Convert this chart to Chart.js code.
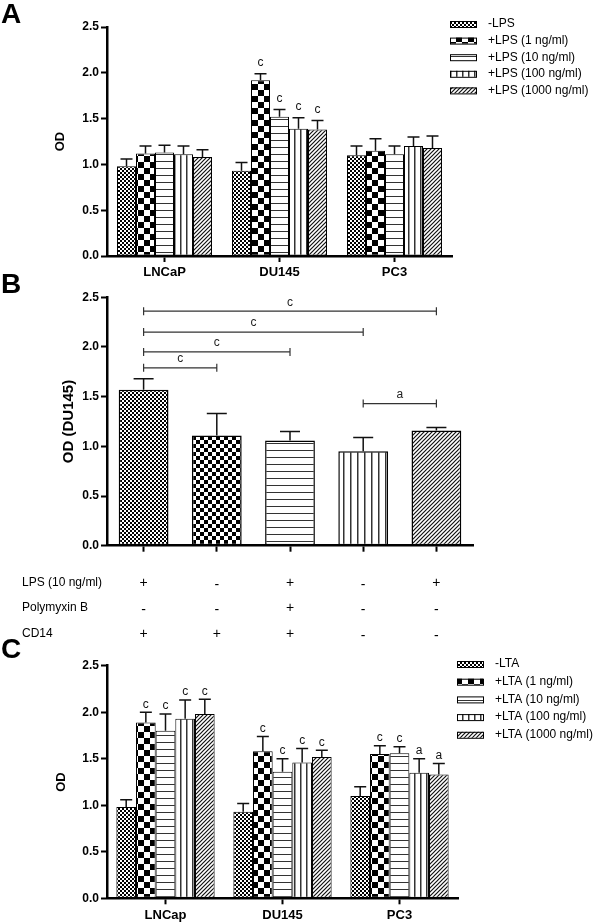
<!DOCTYPE html>
<html>
<head>
<meta charset="utf-8">
<script src="https://cdn.jsdelivr.net/npm/chart.js@4.4.1/dist/chart.umd.min.js"></script>
<style>
  html, body { margin: 0; padding: 0; background: #fff; }
  #wrap { position: relative; width: 600px; height: 923px; overflow: hidden; }
  canvas { position: absolute; left: 0; }
</style>
</head>
<body>
<div id="wrap">
  <canvas id="chartA" width="600" height="282" style="top:0"></canvas>
  <canvas id="chartB" width="600" height="372" style="top:268px"></canvas>
  <canvas id="chartC" width="600" height="293" style="top:630px"></canvas>
</div>
<script>
const FONT = "'Liberation Sans', Arial, sans-serif";

// Panel A: LPS
const cellLinesA = ["LNCaP", "DU145", "PC3"];
const seriesA = ["-LPS", "+LPS (1 ng/ml)", "+LPS (10 ng/ml)", "+LPS (100 ng/ml)", "+LPS (1000 ng/ml)"];
const lpsNone = [0.98, 0.93, 1.10];
const lps1 = [1.12, 1.92, 1.15];
const lps10 = [1.13, 1.52, 1.11];
const lps100 = [1.11, 1.39, 1.20];
const lps1000 = [1.08, 1.38, 1.18];
const lpsNoneErr = [0.08, 0.09, 0.10];
const lps1Err = [0.08, 0.07, 0.13];
const lps10Err = [0.08, 0.08, 0.09];
const lps100Err = [0.09, 0.12, 0.10];
const lps1000Err = [0.08, 0.10, 0.13];
const sigA = [["", "", ""], ["", "c", ""], ["", "c", ""], ["", "c", ""], ["", "c", ""]];

// Panel B: DU145 with LPS / Polymyxin B / CD14
const meanB = [1.57, 1.11, 1.06, 0.95, 1.16];
const errB = [0.11, 0.22, 0.09, 0.14, 0.03];
const lpsRow = ["+", "-", "+", "-", "+"];
const polymyxinRow = ["-", "-", "+", "-", "-"];
const cd14Row = ["+", "+", "+", "-", "-"];
const rowNamesB = ["LPS (10 ng/ml)", "Polymyxin B", "CD14"];
// [from, to, level, label]
const bracketsB = [[0, 4, 2.36, "c"], [0, 3, 2.15, "c"], [0, 2, 1.95, "c"], [0, 1, 1.79, "c"], [3, 4, 1.43, "a"]];

// Panel C: LTA
const cellLinesC = ["LNCap", "DU145", "PC3"];
const seriesC = ["-LTA", "+LTA (1 ng/ml)", "+LTA (10 ng/ml)", "+LTA (100 ng/ml)", "+LTA (1000 ng/ml)"];
const ltaNone = [0.98, 0.93, 1.10];
const lta1 = [1.89, 1.58, 1.55];
const lta10 = [1.80, 1.36, 1.56];
const lta100 = [1.93, 1.46, 1.35];
const lta1000 = [1.98, 1.52, 1.33];
const ltaNoneErr = [0.08, 0.09, 0.10];
const lta1Err = [0.11, 0.16, 0.09];
const lta10Err = [0.18, 0.14, 0.07];
const lta100Err = [0.20, 0.15, 0.15];
const lta1000Err = [0.16, 0.07, 0.12];
const sigC = [["", "", ""], ["c", "c", "c"], ["c", "c", "c"], ["c", "c", "a"], ["c", "c", "a"]];

Chart.defaults.font.family = FONT;
Chart.defaults.color = "#000";

// hatch fills
function tile(w, h, draw) {
  const c = document.createElement("canvas");
  c.width = w; c.height = h;
  const g = c.getContext("2d");
  g.fillStyle = "#fff";
  g.fillRect(0, 0, w, h);
  draw(g);
  return g.createPattern(c, "repeat");
}
function checker(s) {
  return tile(2 * s, 2 * s, g => {
    g.fillStyle = "#000";
    g.fillRect(0, 0, s, s);
    g.fillRect(s, s, s, s);
  });
}
function hLines(step) {
  return tile(4, step, g => { g.fillStyle = "#333"; g.fillRect(0, 0, 4, 1); });
}
function vLines(step) {
  return tile(step, 4, g => { g.fillStyle = "#333"; g.fillRect(0, 0, 1.5, 4); });
}
function diag(step) {
  return tile(step, step, g => {
    g.strokeStyle = "#111"; g.lineWidth = 1.2;
    g.beginPath();
    g.moveTo(-1, 1); g.lineTo(1, -1);
    g.moveTo(0, step); g.lineTo(step, 0);
    g.moveTo(step - 1, step + 1); g.lineTo(step + 1, step - 1);
    g.stroke();
  });
}
const patsAC = [checker(2), checker(6), hLines(7), vLines(6), diag(4)];
const patsB = [checker(2), checker(4), hLines(7), vLines(7), diag(4)];

const errorBars = {
  id: "errorBars",
  afterDatasetsDraw(chart, args, o) {
    const ctx = chart.ctx, y = chart.scales.y;
    ctx.save();
    ctx.strokeStyle = "#111"; ctx.lineWidth = 1.5;
    ctx.fillStyle = "#111"; ctx.font = "12px " + FONT;
    ctx.textAlign = "center"; ctx.textBaseline = "middle";
    chart.data.datasets.forEach((ds, i) => {
      chart.getDatasetMeta(i).data.forEach((bar, j) => {
        const top = y.getPixelForValue(ds.data[j] + ds.errors[j]);
        ctx.beginPath();
        ctx.moveTo(bar.x, bar.y); ctx.lineTo(bar.x, top);
        ctx.moveTo(bar.x - o.cap / 2, top); ctx.lineTo(bar.x + o.cap / 2, top);
        ctx.stroke();
        if (ds.sig && ds.sig[j]) ctx.fillText(ds.sig[j], bar.x, top - o.gap);
      });
    });
    ctx.restore();
  }
};

const panelLetter = {
  id: "panelLetter",
  afterDraw(chart, args, o) {
    const ctx = chart.ctx;
    ctx.save();
    ctx.fillStyle = "#000"; ctx.font = "bold 28px " + FONT;
    ctx.textBaseline = "alphabetic"; ctx.textAlign = "left";
    ctx.fillText(o.text, o.x, o.y);
    ctx.restore();
  }
};

const sideLegend = {
  id: "sideLegend",
  afterDraw(chart, args, o) {
    if (!o.show) return;
    const ctx = chart.ctx;
    ctx.save();
    ctx.font = "12px " + FONT; ctx.textBaseline = "middle"; ctx.textAlign = "left";
    chart.data.datasets.forEach((ds, i) => {
      const cy = o.y + i * o.step;
      ctx.fillStyle = ds.backgroundColor;
      ctx.fillRect(o.x, cy - 3, 26, 6);
      ctx.strokeStyle = "#000"; ctx.lineWidth = 1;
      ctx.strokeRect(o.x + 0.5, cy - 3 + 0.5, 26, 6);
      ctx.fillStyle = "#000";
      ctx.fillText(ds.label, o.textX, cy);
    });
    ctx.restore();
  }
};

function axes(yTitle, titleSize, titlePad, xHeight, xLabels) {
  return {
    x: {
      offset: true,
      grid: { display: true, drawOnChartArea: false, offset: false, tickLength: 6, tickWidth: 2, tickColor: "#000" },
      border: { display: true, width: 2.5, color: "#000" },
      ticks: {
        color: "#000", padding: 3, maxRotation: 0, autoSkip: false,
        font: { size: 13, weight: "bold" },
        callback: function (v) { return xLabels ? this.getLabelForValue(v) : ""; }
      },
      afterFit: s => { s.height = xHeight; }
    },
    y: {
      min: 0, max: 2.5,
      grid: { drawOnChartArea: false, tickLength: 6, tickWidth: 2, tickColor: "#000" },
      border: { display: true, width: 2.5, color: "#000" },
      ticks: { stepSize: 0.5, color: "#000", padding: 2, font: { size: 12, weight: "bold" }, callback: v => (+v).toFixed(1) },
      title: {
        display: true, text: yTitle, color: "#000",
        font: { size: titleSize, weight: "bold" },
        padding: { top: titlePad, bottom: 0 }
      },
      afterFit: s => { s.width = 107; }
    }
  };
}

function groupedChart(id, labels, names, means, errs, sigs, pad, catPct, letter, legend, titlePad) {
  return new Chart(document.getElementById(id), {
    type: "bar",
    data: {
      labels,
      datasets: names.map((n, i) => ({
        label: n, data: means[i], errors: errs[i], sig: sigs[i],
        backgroundColor: patsAC[i], borderColor: "#000", borderWidth: 1, borderSkipped: false
      }))
    },
    options: {
      responsive: false, animation: false, devicePixelRatio: 1,
      layout: { padding: pad },
      datasets: { bar: { categoryPercentage: catPct, barPercentage: 1 } },
      scales: axes("OD", 13, titlePad, 24, true),
      plugins: {
        legend: { display: false }, tooltip: { enabled: false },
        errorBars: letter.err,
        panelLetter: { text: letter.text, x: 1, y: letter.y },
        sideLegend: legend
      }
    },
    plugins: [errorBars, panelLetter, sideLegend]
  });
}

groupedChart("chartA", cellLinesA, seriesA,
  [lpsNone, lps1, lps10, lps100, lps1000],
  [lpsNoneErr, lps1Err, lps10Err, lps100Err, lps1000Err], sigA,
  { left: 0, top: 27, right: 148, bottom: 2 }, 0.826,
  { text: "A", y: 23, err: { cap: 12, gap: 11 } },
  { show: true, x: 450, y: 24, step: 16.6, textX: 488 }, 53);

groupedChart("chartC", cellLinesC, seriesC,
  [ltaNone, lta1, lta10, lta100, lta1000],
  [ltaNoneErr, lta1Err, lta10Err, lta100Err, lta1000Err], sigC,
  { left: 0, top: 35.7, right: 142, bottom: 0.7 }, 0.84,
  { text: "C", y: 28, err: { cap: 12, gap: 8 } },
  { show: true, x: 457, y: 34, step: 17.7, textX: 495 }, 54);

// Panel B
const bracketsPlugin = {
  id: "brackets",
  afterDraw(chart) {
    const ctx = chart.ctx, x = chart.scales.x, y = chart.scales.y;
    ctx.save();
    ctx.strokeStyle = "#333"; ctx.lineWidth = 1.2;
    ctx.fillStyle = "#222"; ctx.font = "12px " + FONT;
    ctx.textAlign = "center"; ctx.textBaseline = "middle";
    bracketsB.forEach(([a, b, lvl, txt]) => {
      const x0 = x.getPixelForValue(a), x1 = x.getPixelForValue(b), yy = y.getPixelForValue(lvl);
      ctx.beginPath();
      ctx.moveTo(x0, yy); ctx.lineTo(x1, yy);
      ctx.moveTo(x0, yy - 4); ctx.lineTo(x0, yy + 4);
      ctx.moveTo(x1, yy - 4); ctx.lineTo(x1, yy + 4);
      ctx.stroke();
      ctx.fillText(txt, (x0 + x1) / 2, yy - 9);
    });
    // treatment table
    const rows = [lpsRow, polymyxinRow, cd14Row];
    const rowY = [314.7, 339.7, 366];
    ctx.fillStyle = "#000";
    rows.forEach((r, k) => {
      ctx.textAlign = "left";
      ctx.font = "12px " + FONT;
      ctx.fillText(rowNamesB[k], 22, rowY[k]);
      ctx.textAlign = "center";
      ctx.font = "14px " + FONT;
      r.forEach((s, i) => ctx.fillText(s, x.getPixelForValue(i), rowY[k] + (s === "-" ? 2 : 0)));
    });
    ctx.restore();
  }
};

new Chart(document.getElementById("chartB"), {
  type: "bar",
  data: {
    labels: meanB.map((_, i) => "LPS" + lpsRow[i] + " PMB" + polymyxinRow[i] + " CD14" + cd14Row[i]),
    datasets: [{
      label: "OD (DU145)", data: meanB, errors: errB,
      backgroundColor: patsB, borderColor: "#000", borderWidth: 1.5, borderSkipped: false
    }]
  },
  options: {
    responsive: false, animation: false, devicePixelRatio: 1,
    layout: { padding: { left: 0, top: 29.3, right: 127, bottom: 82.3 } },
    datasets: { bar: { categoryPercentage: 1, barPercentage: 0.68 } },
    scales: axes("OD (DU145)", 15, 60, 12, false),
    plugins: {
      legend: { display: false }, tooltip: { enabled: false },
      errorBars: { cap: 20, gap: 0 },
      panelLetter: { text: "B", x: 1, y: 25 }
    }
  },
  plugins: [errorBars, panelLetter, bracketsPlugin]
});
</script>
</body>
</html>
